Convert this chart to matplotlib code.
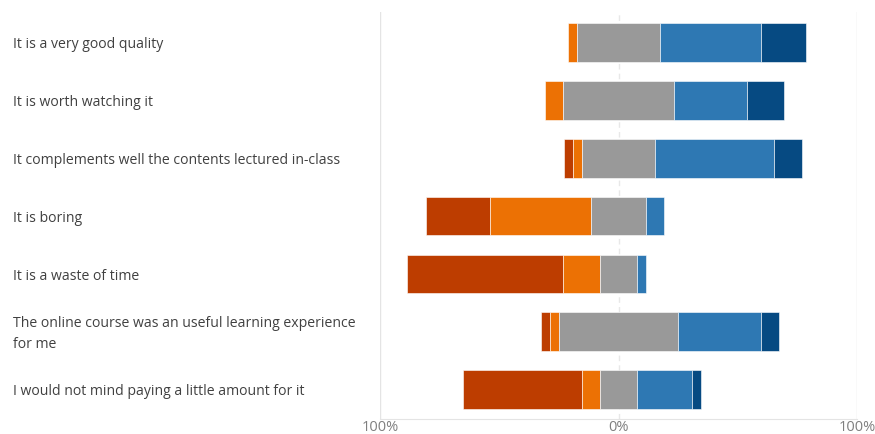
import matplotlib.pyplot as plt
from matplotlib.transforms import blended_transform_factory

plt.rcParams['font.family'] = ['Open Sans', 'DejaVu Sans']

questions = [
    "It is a very good quality",
    "It is worth watching it",
    "It complements well the contents lectured in-class",
    "It is boring",
    "It is a waste of time",
    "The online course was an useful learning experience\nfor me",
    "I would not mind paying a little amount for it",
]

# percentages of answers per statement
strongly_disagree = [0.0, 0.0, 3.8, 26.9, 65.4, 3.8, 50.0]
disagree = [3.8, 7.7, 3.8, 42.3, 15.4, 3.8, 7.7]
neutral = [34.6, 46.2, 30.8, 23.1, 15.4, 50.0, 15.4]
agree = [42.3, 30.8, 50.0, 7.7, 3.8, 34.6, 23.1]
strongly_agree = [19.2, 15.4, 11.5, 0.0, 0.0, 7.7, 3.8]

colors = ["#BD3D00", "#EC7104", "#999999", "#2E78B3", "#064A82"]

fig = plt.figure(figsize=(8.75, 4.34), dpi=100)
ax = fig.add_axes([380 / 875, 15 / 434, 477 / 875, 407 / 434])

y = list(range(len(questions)))
for i in y:
    start = -(strongly_disagree[i] + disagree[i] + neutral[i] / 2)
    parts = [strongly_disagree[i], disagree[i], neutral[i], agree[i], strongly_agree[i]]
    for val, col in zip(parts, colors):
        if val > 0:
            ax.barh(i, val, left=start, height=0.667, color=col,
                    edgecolor="white", linewidth=0.4, zorder=3)
        start += val

ax.set_xlim(-100, 100)
ax.set_ylim(6.51, -0.53)

ax.set_xticks([-100, 0, 100])
ax.set_xticklabels(["100%", "0%", "100%"], color="#7F7F7F", fontsize=10.5)
ax.tick_params(axis="x", length=0, pad=0.5)
ax.set_yticks([])

for x in (-100, 100):
    ax.axvline(x, color="#E4E4E4", linewidth=1, zorder=1)
ax.axvline(0, color="#E8E8E8", linewidth=1, linestyle=(0, (4, 3)), zorder=1)

for side in ("top", "right", "left"):
    ax.spines[side].set_visible(False)
ax.spines["bottom"].set_color("#E4E4E4")

# statement labels in the left margin
trans = blended_transform_factory(fig.transFigure, ax.transData)
for i, q in enumerate(questions):
    ax.text(13 / 875, i + 0.04, q, transform=trans, ha="left", va="center",
            fontsize=10.1, color="#404040", linespacing=1.6, clip_on=False)

fig.savefig("out.png", dpi=100, facecolor="white")
